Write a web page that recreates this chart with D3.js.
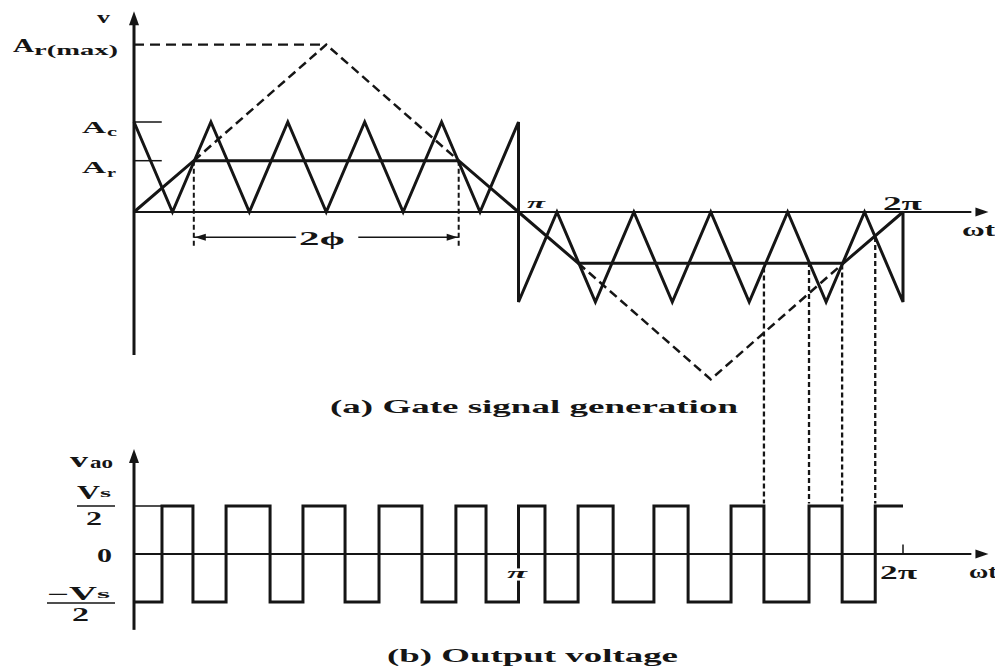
<!DOCTYPE html>
<html><head><meta charset="utf-8">
<script src="https://cdn.jsdelivr.net/npm/d3@7"></script>
<style>
body{margin:0;background:#fff}
text{font-family:"Liberation Serif","DejaVu Serif",serif;font-weight:bold;fill:#151515}
</style>
</head><body>
<svg id="c" width="995" height="670"></svg>
<script>
// ---------- data (angles = ωt in degrees, amplitudes normalised: A_c = 1, V_s/2 = 1) ----------
const carrierAngles = [0,18,36,54,72,90,108,126,144,162,180,180,198,216,234,252,270,288,306,324,342,360,360];
const carrierValues = [1,0,1,0,1,0,1,0,1,0,1,-1,0,-1,0,-1,0,-1,0,-1,0,-1,0];
const Ar = 0.57, ArMax = 1.86, Ac = 1;
const refAngles = [0, 28, 152, 180, 208, 332, 360];
const refValues = [0, Ar, Ar, 0, -Ar, -Ar, 0];
const dashTriAngles = [28, 90, 152];
const dashTriPos = [Ar, ArMax, Ar];
const dashTriAngles2 = [208, 270, 332];
const dashTriNeg = [-Ar, -ArMax, -Ar];
const switchAngles = [13.1,27.6,43.1,63.7,79.1,98.8,114.7,134.8,150.7,164.8,180,192.4,207.9,224.3,243.4,259.4,279.5,294.9,316.0,331.5,347.0];
const projectedSwitches = [294.9,316.0,331.5,347.0];
const phiAngles = [28, 152];

// ---------- scales ----------
const svg = d3.select("#c");
const x = d3.scaleLinear().domain([0,360]).range([134,903]);
const yA = d3.scaleLinear().domain([-1,1]).range([302,122]);   // panel (a)
const yB = d3.scaleLinear().domain([-1,1]).range([602,506]);   // panel (b)
const ink = "#151515";

function line(pts, sc, w, dash){
  const g = d3.line().x(d=>x(d[0])).y(d=>sc(d[1]));
  const p = svg.append("path").attr("d", g(pts)).attr("fill","none")
    .attr("stroke", ink).attr("stroke-width", w).attr("stroke-linejoin","miter");
  if (dash) p.attr("stroke-dasharray", dash);
  return p;
}
function arrow(px, py, dir, len, half){
  let pts;
  if (dir==="up") pts=[[px,py],[px-half,py+len],[px+half,py+len]];
  else if (dir==="right") pts=[[px,py],[px-len,py-half],[px-len,py+half]];
  else pts=[[px,py],[px+len,py-half],[px+len,py+half]];
  svg.append("path").attr("d","M"+pts.map(p=>p.join(",")).join("L")+"Z").attr("fill",ink);
}
function txt(s, tx, ty, size, len, opts={}){
  const t = svg.append("text").attr("x",tx).attr("y",ty).attr("font-size",size).text(s);
  if (len) t.attr("textLength",len).attr("lengthAdjust","spacingAndGlyphs");
  if (opts.italic) t.attr("font-style","italic");
  if (opts.halo) t.attr("stroke","#fff").attr("stroke-width",5).attr("paint-order","stroke");
  return t;
}
const zip = (a,b)=>a.map((v,i)=>[v,b[i]]);

// ---------- panel (a) ----------
line([[0,-1.59],[0,2.1]], yA, 3);
arrow(x(0), yA(2.23), "up", 14, 5);
line([[0,0],[392,0]], yA, 2);
arrow(x(400), yA(0), "right", 13, 4.5);
line([[0,Ac],[13,Ac]], yA, 1.5);
line([[0,Ar],[13,Ar]], yA, 1.5);
line([[0,ArMax],[90,ArMax]], yA, 2.3, "10,6");
line(zip(dashTriAngles, dashTriPos), yA, 2.5, "9,5");
line(zip(dashTriAngles2, dashTriNeg), yA, 2.5, "9,5");
phiAngles.forEach(a => line([[a,Ar],[a,-0.39]], yA, 2, "5,3"));
const phiY = yA(-0.28);
svg.append("line").attr("x1",x(28)).attr("x2",x(76)).attr("y1",phiY).attr("y2",phiY).attr("stroke",ink).attr("stroke-width",1.5);
svg.append("line").attr("x1",x(105)).attr("x2",x(152)).attr("y1",phiY).attr("y2",phiY).attr("stroke",ink).attr("stroke-width",1.5);
arrow(x(28)+1, phiY, "left", 11, 3.5);
arrow(x(152)-1, phiY, "right", 11, 3.5);
line(zip(refAngles, refValues), yA, 3);
line(zip(carrierAngles, carrierValues), yA, 3);

// ---------- panel (b) ----------
line([[0,-1.58],[0,2.05]], yB, 3);
arrow(x(0), yB(2.19), "up", 14, 5);
line([[0,0],[392,0]], yB, 2);
arrow(x(400), yB(0), "right", 13, 4.5);
line([[0,1],[13,1]], yB, 1.5);
line([[360,0],[360,0.2]], yB, 1.5);
const sq = [[0,-1]]; let v = -1;
switchAngles.forEach(a => { sq.push([a,v]); v = -v; sq.push([a,v]); });
sq.push([360,v]);
line(sq, yB, 3);

function carrierAt(a){
  for (let i=0;i<carrierAngles.length-1;i++){
    const a0=carrierAngles[i], a1=carrierAngles[i+1];
    if (a1>a0 && a>=a0 && a<=a1){
      return carrierValues[i] + (carrierValues[i+1]-carrierValues[i])*(a-a0)/(a1-a0);
    }
  }
  return 0;
}
projectedSwitches.forEach(a => {
  svg.append("line").attr("x1",x(a)).attr("x2",x(a))
    .attr("y1",yA(carrierAt(a))).attr("y2",yB(1.05))
    .attr("stroke",ink).attr("stroke-width",2.3).attr("stroke-dasharray","5,3");
});

// ---------- labels ----------
txt("v", 97, 23, 17, 13);
txt("A", 13, 52, 19, 21);
txt("r(max)", 34, 55, 15, 84);
txt("A", 82, 133, 17, 24);
txt("c", 107, 136, 13, 10);
txt("A", 82, 173, 17, 24);
txt("r", 107, 177, 13, 9);
txt("π", 527, 208, 15, 18, {italic:true});
txt("2π", 883, 210, 18, 39);
txt("ωt", 962, 236, 18, 33);
txt("2ϕ", 299, 245, 18, 46, {halo:true});
txt("(a) Gate signal generation", 330, 413, 18, 408);

txt("v", 70, 467, 21, 18);
txt("ao", 90, 468, 17, 23);
txt("V", 77, 499, 18, 23);
txt("s", 100, 497, 12, 11);
svg.append("line").attr("x1",77).attr("x2",115).attr("y1",506).attr("y2",506).attr("stroke",ink).attr("stroke-width",1.5);
txt("2", 86, 525, 18, 16);
txt("0", 97, 562, 18, 15);
txt("−V", 47, 600, 18, 50);
txt("s", 97, 598, 12, 13);
svg.append("line").attr("x1",47).attr("x2",115).attr("y1",603).attr("y2",603).attr("stroke",ink).attr("stroke-width",1.5);
txt("2", 72, 621, 18, 17);
txt("π", 507, 578, 15, 20, {italic:true, halo:true});
txt("2π", 880, 579, 18, 37);
txt("ωt", 969, 578, 18, 28);
txt("(b) Output voltage", 387, 662, 18, 291);
</script>
</body></html>
